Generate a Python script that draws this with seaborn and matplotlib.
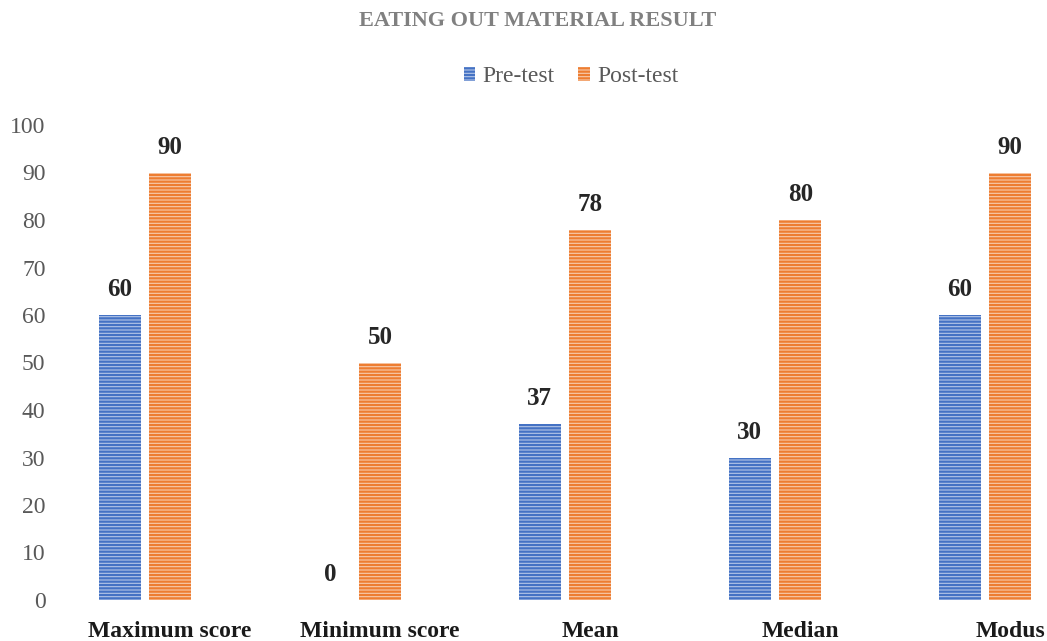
import pandas as pd
import matplotlib
matplotlib.use("Agg")
import matplotlib.pyplot as plt
import matplotlib.transforms as mtransforms
from matplotlib.patches import Patch
import seaborn as sns

categories = ["Maximum score", "Minimum score", "Mean", "Median", "Modus"]
pre_test = [60, 0, 37, 30, 60]
post_test = [90, 50, 78, 80, 90]

df = pd.DataFrame({
    "category": categories * 2,
    "value": pre_test + post_test,
    "test": ["Pre-test"] * 5 + ["Post-test"] * 5,
})

sns.set_style("white")
plt.rcParams["font.family"] = ["Liberation Serif", "DejaVu Serif"]
plt.rcParams["hatch.linewidth"] = 1.6

fig = plt.figure(figsize=(10.47, 6.41), dpi=100)
left_px = 58
ax = fig.add_axes([left_px / 1047, 41 / 641, 1 - left_px / 1047, 475 / 641])

colors = {"Pre-test": "#4472c4", "Post-test": "#ed7d31"}
light = {"Pre-test": "#b4c6e7", "Post-test": "#f8cbad"}
sns.barplot(data=df, x="category", y="value", hue="test", palette=colors,
            width=0.48, gap=0.17, ax=ax, legend=False)

for cont, name in zip(ax.containers, ["Pre-test", "Post-test"]):
    for bar in cont:
        bar.set_facecolor(light[name])
        bar.set_edgecolor(colors[name])
        bar.set_hatch("-----")
        bar.set_linewidth(0)
    ax.bar_label(cont, padding=10, fontsize=18, fontweight="bold", color="#262626")

ax.set_xlim(-(145 - left_px) / 210, (1047 - 145) / 210)
ax.set_ylim(0, 100)
ax.set_yticks(range(0, 101, 10))
ax.tick_params(axis="y", labelsize=17, labelcolor="#595959", length=0, pad=9)
ax.tick_params(axis="x", labelsize=17, length=0, pad=15)
for lab in ax.get_xticklabels():
    lab.set_fontweight("bold")
    lab.set_color("#1a1a1a")
    lab.set_transform(lab.get_transform() + mtransforms.ScaledTranslation(0.25, 0, fig.dpi_scale_trans))
ax.set_xlabel("")
ax.set_ylabel("")
sns.despine(ax=ax, left=True, bottom=True)

handles = [Patch(facecolor=light[n], edgecolor=colors[n], hatch="-----", linewidth=0, label=n)
           for n in ["Pre-test", "Post-test"]]
fig.legend(handles=handles, loc="center", bbox_to_anchor=(571 / 1047, 1 - 77 / 641), ncol=2,
           frameon=False, fontsize=17, labelcolor="#595959", handlelength=0.5, handleheight=0.5,
           handletextpad=0.3, columnspacing=1.0)

fig.text(538 / 1047, 1 - 21 / 641, "EATING OUT MATERIAL RESULT", ha="center", va="center",
         fontsize=16, fontweight="bold", color="#808080")

fig.savefig("out.png", dpi=100)
